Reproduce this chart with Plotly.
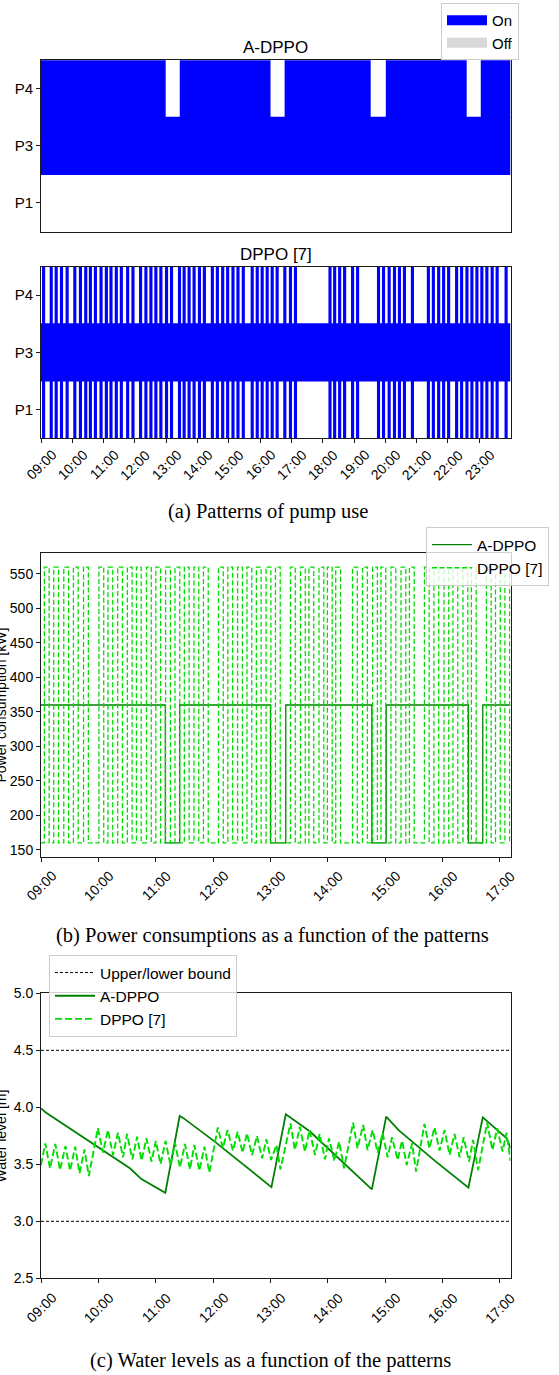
import plotly.graph_objects as go

W, H = 559, 1375
SANS = "Liberation Sans, Arial, sans-serif"
SERIF = "Liberation Serif, Times New Roman, serif"

# ---------------- pump-use patterns (minutes after 09:00) ----------------
PUMPS = ["P1", "P3", "P4"]
PATTERN_SPAN_MIN = 900
PATTERN_TICK_MIN = [0, 60, 120, 180, 240, 300, 360, 420, 480, 540, 600, 660, 720, 780, 840]
PATTERN_TICK_LABELS = ["09:00", "10:00", "11:00", "12:00", "13:00", "14:00", "15:00", "16:00",
                       "17:00", "18:00", "19:00", "20:00", "21:00", "22:00", "23:00"]

ADPPO_P4_ON = [(0, 239), (266, 440), (467, 632), (661, 816), (843, 900)]
ADPPO_P3_ON = [(0, 900)]
ADPPO_P1_ON = []

DPPO_P3_ON = [(0, 900)]
# P1 and P4 run together in short cycles
DPPO_CYCLE_STARTS = [2.0, 16.6, 26.1, 36.3, 47.1, 61.8, 72.6, 82.8, 91.7, 101.3, 112.1, 122.3,
                     131.2, 141.4, 151.0, 163.1, 173.3, 187.9, 198.1, 207.7, 217.2, 226.8, 237.6,
                     247.2, 262.5, 271.4, 280.9, 290.5, 300.7, 310.2, 325.5, 335.1, 345.3, 354.8,
                     365.0, 374.6, 384.8, 401.9, 411.5, 421.0, 430.6, 440.2, 449.7, 464.4, 475.2,
                     484.8, 551.0, 559.9, 569.5, 579.0, 594.3, 603.9, 644.0, 653.6, 664.4, 674.6,
                     684.1, 693.7, 709.0, 739.6, 749.1, 759.3, 768.8, 778.4, 793.7, 803.3, 813.5,
                     823.0, 832.6, 842.1, 851.7, 861.9, 871.4, 888.6]
DPPO_CYCLE_RUN_MIN = 6.0

# ---------------- power consumption (kW) ----------------
SIM_END_MIN = 491
SIM_TICK_MIN = [0, 60, 120, 180, 240, 300, 360, 420, 480]
SIM_TICK_LABELS = ["09:00", "10:00", "11:00", "12:00", "13:00", "14:00", "15:00", "16:00", "17:00"]
POWER_TICKS = [150, 200, 250, 300, 350, 400, 450, 500, 550]

ADPPO_SWITCH_MIN = [0, 130, 145, 240, 256, 346, 361, 447, 462]
ADPPO_POWER_KW = [360, 160, 360, 160, 360, 160, 360, 160, 360]

DPPO_PULSE_START_MIN = [3.5, 13.3, 23.8, 33.9, 44.5, 60.6, 70.0, 80.2, 90.3, 99.8, 110.3, 120.1,
                        130.3, 140.1, 149.9, 160.0, 169.9, 185.6, 195.4, 205.6, 215.4, 225.2,
                        235.4, 245.2, 260.9, 271.4, 280.2, 290.7, 299.5, 308.2, 325.8, 336.3,
                        346.8, 355.5, 366.0, 376.5, 385.3, 401.0, 410.9, 421.4, 430.8, 441.3,
                        450.1, 465.8, 475.3, 485.1]
DPPO_PULSE_LEN_MIN = 5.0
DPPO_POWER_LOW_KW = 160
DPPO_POWER_HIGH_KW = 560

# ---------------- water level (m) ----------------
LEVEL_BOUNDS = [4.5, 3.0]
LEVEL_TICKS = [2.5, 3.0, 3.5, 4.0, 4.5, 5.0]

ADPPO_LEVEL_T = [0, 5, 93, 105, 130, 145, 149, 180, 241, 256, 281, 326, 346, 361, 374, 412, 447,
                 462, 487, 491]
ADPPO_LEVEL_M = [3.99, 3.955, 3.465, 3.37, 3.25, 3.924, 3.905, 3.71, 3.30, 3.939, 3.79, 3.435,
                 3.28, 3.918, 3.80, 3.53, 3.295, 3.912, 3.728, 3.64]

DPPO_LEVEL_T = [0, 4.5, 9.4, 15.0, 19.9, 25.6, 30.4, 35.7, 40.3, 45.5, 50.0, 59.5, 64.8, 70.0,
                75.3, 80.5, 85.8, 90.0, 95.6, 100.5, 105.1, 110.3, 115.6, 120.1, 125.0, 130.3,
                135.6, 140.1, 145.3, 150.6, 155.8, 160.4, 165.6, 170.9, 176.1, 184.9, 190.2,
                195.1, 200.7, 205.6, 210.8, 215.4, 220.7, 225.9, 231.2, 235.7, 240.6, 246.2,
                250.4, 260.9, 265.5, 270.7, 276.0, 280.9, 286.5, 291.4, 297.0, 301.2, 306.8,
                311.7, 316.9, 326.4, 331.0, 336.9, 341.5, 346.8, 352.0, 357.3, 362.5, 367.1,
                373.0, 377.6, 382.5, 388.1, 392.3, 401.0, 406.2, 411.5, 416.8, 422.0, 427.3,
                432.5, 437.8, 442.0, 447.6, 451.8, 457.1, 466.6, 472.1, 477.1, 482.7, 486.8, 491]
DPPO_LEVEL_M = [3.494, 3.684, 3.465, 3.678, 3.450, 3.660, 3.444, 3.655, 3.421, 3.631, 3.397,
                3.816, 3.602, 3.801, 3.582, 3.777, 3.561, 3.766, 3.544, 3.742, 3.532, 3.728,
                3.523, 3.704, 3.503, 3.704, 3.485, 3.690, 3.473, 3.678, 3.456, 3.669, 3.444,
                3.655, 3.427, 3.824, 3.640, 3.801, 3.620, 3.786, 3.602, 3.772, 3.582, 3.748,
                3.552, 3.719, 3.538, 3.669, 3.455, 3.859, 3.625, 3.830, 3.611, 3.801, 3.582,
                3.766, 3.544, 3.728, 3.529, 3.699, 3.465, 3.865, 3.640, 3.845, 3.625, 3.801,
                3.602, 3.772, 3.561, 3.737, 3.538, 3.707, 3.494, 3.684, 3.435, 3.854, 3.640,
                3.824, 3.620, 3.801, 3.582, 3.766, 3.561, 3.737, 3.523, 3.713, 3.450, 3.865,
                3.625, 3.816, 3.611, 3.777, 3.53]

# ---------------- colours ----------------
ON_BLUE = "#0000ff"
OFF_GREY = "#d8d8d8"
GREEN = "#008000"
LIME = "#00dd00"
AXIS_COL = "#1a1a1a"


def px_x(v):
    return v / W


def px_y(v):
    return 1 - v / H


PLOT_L, PLOT_R = 41.0, 510.5
PANELS = {  # top, bottom in pixels
    1: (60.3, 231.5),
    2: (266.5, 438.3),
    3: (553.3, 856.7),
    4: (993.3, 1278.3),
}

fig = go.Figure()


def add_pattern(intervals, row, ax):
    if not intervals:
        return
    fig.add_trace(go.Bar(
        y=[row] * len(intervals),
        x=[e - s for s, e in intervals],
        base=[s for s, _ in intervals],
        orientation="h", width=1.02,
        marker=dict(color=ON_BLUE, line=dict(width=0)),
        xaxis="x" + ax, yaxis="y" + ax,
        showlegend=False, hoverinfo="skip",
    ))


# A-DPPO pattern
add_pattern(ADPPO_P4_ON, "P4", "")
add_pattern(ADPPO_P3_ON, "P3", "")
add_pattern(ADPPO_P1_ON, "P1", "")

# DPPO pattern
dppo_cycles = [(s, min(s + DPPO_CYCLE_RUN_MIN, PATTERN_SPAN_MIN)) for s in DPPO_CYCLE_STARTS]
add_pattern(dppo_cycles, "P4", "2")
add_pattern(DPPO_P3_ON, "P3", "2")
add_pattern(dppo_cycles, "P1", "2")

# legend entries for the pattern panels
for name, col in (("On", ON_BLUE), ("Off", OFF_GREY)):
    fig.add_trace(go.Scatter(
        x=[None], y=[None], mode="lines", name=name,
        line=dict(color=col, width=10),
        xaxis="x", yaxis="y", legend="legend",
    ))

# power consumption
adppo_px = ADPPO_SWITCH_MIN + [SIM_END_MIN]
adppo_py = ADPPO_POWER_KW + [ADPPO_POWER_KW[-1]]
fig.add_trace(go.Scatter(
    x=adppo_px, y=adppo_py, mode="lines", line_shape="hv", name="A-DPPO",
    line=dict(color=GREEN, width=1.3),
    xaxis="x3", yaxis="y3", legend="legend2", hoverinfo="skip",
))

dppo_px, dppo_py = [0], [DPPO_POWER_LOW_KW]
for s in DPPO_PULSE_START_MIN:
    e = min(s + DPPO_PULSE_LEN_MIN, SIM_END_MIN)
    dppo_px += [s, e]
    dppo_py += [DPPO_POWER_HIGH_KW, DPPO_POWER_LOW_KW]
dppo_px.append(SIM_END_MIN)
dppo_py.append(DPPO_POWER_LOW_KW)
fig.add_trace(go.Scatter(
    x=dppo_px, y=dppo_py, mode="lines", line_shape="hv", name="DPPO [7]",
    line=dict(color=LIME, width=1.3, dash="5px,2.5px"),
    xaxis="x3", yaxis="y3", legend="legend2", hoverinfo="skip",
))

# water level
bx, by = [], []
for b in LEVEL_BOUNDS:
    bx += [0, SIM_END_MIN, None]
    by += [b, b, None]
fig.add_trace(go.Scatter(
    x=bx, y=by, mode="lines", name="Upper/lower bound",
    line=dict(color="black", width=1, dash="3px,2px"),
    xaxis="x4", yaxis="y4", legend="legend3", hoverinfo="skip",
))
fig.add_trace(go.Scatter(
    x=ADPPO_LEVEL_T, y=ADPPO_LEVEL_M, mode="lines", name="A-DPPO",
    line=dict(color=GREEN, width=1.8),
    xaxis="x4", yaxis="y4", legend="legend3", hoverinfo="skip",
))
fig.add_trace(go.Scatter(
    x=DPPO_LEVEL_T, y=DPPO_LEVEL_M, mode="lines", name="DPPO [7]",
    line=dict(color=LIME, width=1.9, dash="7px,3px"),
    xaxis="x4", yaxis="y4", legend="legend3", hoverinfo="skip",
))


def axis_style(**kw):
    d = dict(showline=True, linecolor=AXIS_COL, linewidth=1, mirror=True,
             ticks="outside", ticklen=4, tickwidth=1, tickcolor=AXIS_COL,
             showgrid=False, zeroline=False, automargin=False,
             tickfont=dict(family=SANS, size=14, color="black"))
    d.update(kw)
    return d


xdom = [px_x(PLOT_L), px_x(PLOT_R)]


def ydom(n):
    t, b = PANELS[n]
    return [px_y(b), px_y(t)]


cat_y = dict(type="category", categoryorder="array", categoryarray=PUMPS, range=[-0.5, 2.5],
             tickfont=dict(family=SANS, size=15, color="black"))


def legend_box(x, xanchor, y, size):
    return dict(x=px_x(x), xanchor=xanchor, y=px_y(y), yanchor="top",
                bgcolor="rgba(255,255,255,0.8)", bordercolor="#cccccc", borderwidth=1,
                font=dict(family=SANS, size=size, color="black"), itemwidth=40)


layout = dict(
    width=W, height=H, margin=dict(l=0, r=0, t=0, b=0, pad=0, autoexpand=False),
    paper_bgcolor="white", plot_bgcolor="white", barmode="overlay",
    font=dict(family=SANS, color="black"),
    xaxis=axis_style(domain=xdom, anchor="y", range=[0, PATTERN_SPAN_MIN],
                     ticks="", showticklabels=False),
    yaxis=axis_style(domain=ydom(1), anchor="x", **cat_y),
    xaxis2=axis_style(domain=xdom, anchor="y2", range=[0, PATTERN_SPAN_MIN],
                      tickmode="array", tickvals=PATTERN_TICK_MIN, showticklabels=False),
    yaxis2=axis_style(domain=ydom(2), anchor="x2", **cat_y),
    xaxis3=axis_style(domain=xdom, anchor="y3", range=[0, SIM_END_MIN],
                      tickmode="array", tickvals=SIM_TICK_MIN, showticklabels=False),
    yaxis3=axis_style(domain=ydom(3), anchor="x3", range=[140, 580],
                      tickmode="array", tickvals=POWER_TICKS),
    xaxis4=axis_style(domain=xdom, anchor="y4", range=[0, SIM_END_MIN],
                      tickmode="array", tickvals=SIM_TICK_MIN, showticklabels=False),
    yaxis4=axis_style(domain=ydom(4), anchor="x4", range=[2.5, 5.0],
                      tickmode="array", tickvals=LEVEL_TICKS, tickformat=".1f"),
    legend=legend_box(519, "right", 3, 15),
    legend2=legend_box(549, "right", 527, 15.5),
    legend3=legend_box(49, "left", 955, 15.5),
)
fig.update_layout(**layout)

ann = []


def paper_text(txt, x, y, size, family=SANS, angle=0):
    ann.append(dict(text=txt, x=px_x(x), y=px_y(y), xref="paper", yref="paper",
                    xanchor="center", yanchor="middle", textangle=angle, showarrow=False,
                    font=dict(family=family, size=size, color="black")))


mid = (PLOT_L + PLOT_R) / 2
paper_text("A-DPPO", mid, 47, 17)
paper_text("DPPO [7]", mid, 254, 17)

# rotated time labels, centred under each tick
for ax, vals, labels, top in (("x2", PATTERN_TICK_MIN, PATTERN_TICK_LABELS, 444),
                              ("x3", SIM_TICK_MIN, SIM_TICK_LABELS, 865),
                              ("x4", SIM_TICK_MIN, SIM_TICK_LABELS, 1287)):
    for v, lab in zip(vals, labels):
        ann.append(dict(text=lab, x=v, xref=ax, y=px_y(top), yref="paper",
                        xanchor="center", yanchor="top", textangle=-45, showarrow=False,
                        font=dict(family=SANS, size=14, color="black")))

paper_text("Power consumption [kW]", 0.5, 705, 14, angle=-90)
paper_text("Water level [m]", 0.5, 1136, 14, angle=-90)

paper_text("(a) Patterns of pump use", 268, 511, 20.5, SERIF)
paper_text("(b) Power consumptions as a function of the patterns", 272, 935, 20.5, SERIF)
paper_text("(c) Water levels as a function of the patterns", 270, 1360, 20.5, SERIF)

fig.update_layout(annotations=ann)
fig.write_html("out.html")
